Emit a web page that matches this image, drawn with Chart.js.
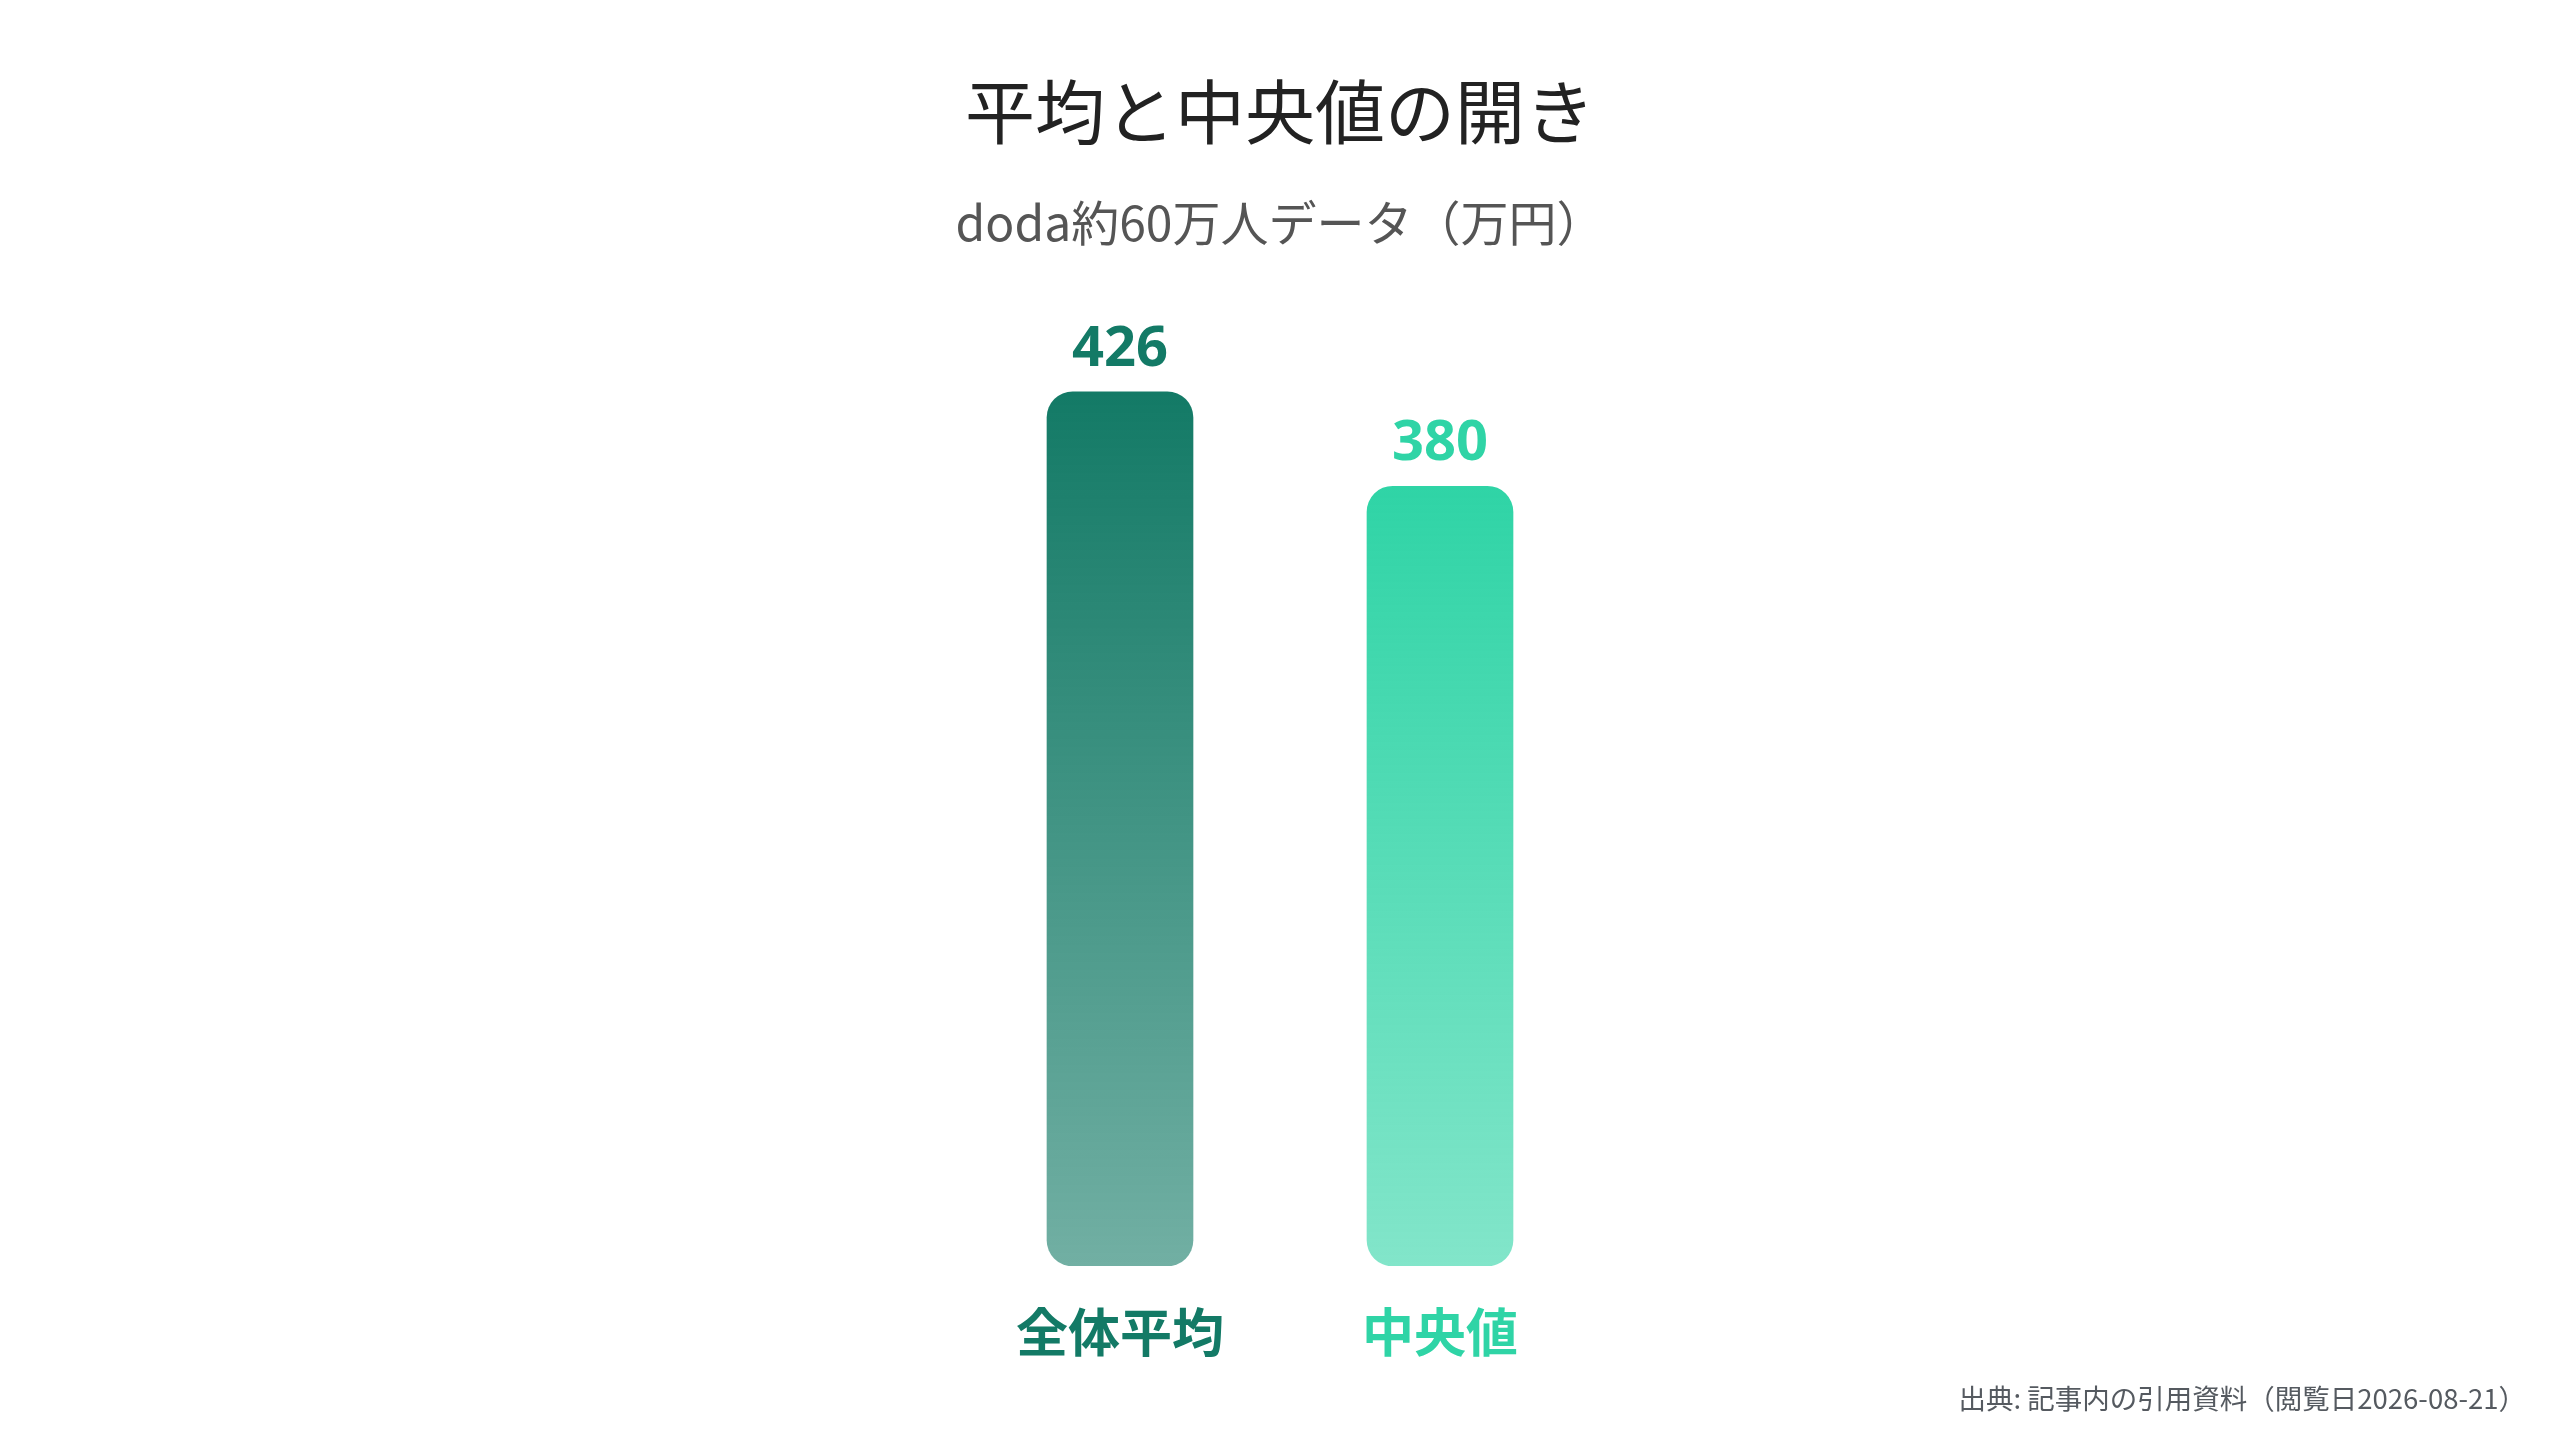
<!DOCTYPE html>
<html lang="ja">
<head>
<meta charset="utf-8">
<title>平均と中央値の開き</title>
<script src="https://cdn.jsdelivr.net/npm/chart.js@4.4.1/dist/chart.umd.min.js"></script>
<style>
    html, body { margin: 0; padding: 0; background: #ffffff; }
    #wrap { position: relative; width: 2560px; height: 1440px; overflow: hidden; }
    #wrap canvas { position: absolute; left: 0; top: 0; }
    .txt { position: absolute; left: 0; width: 2560px; text-align: center; font-family: "Noto Sans CJK JP", "Noto Sans", sans-serif; white-space: nowrap; }
    #title { top: 69px; font-size: 70px; line-height: 80px; color: #222222; font-weight: 400; }
    #subtitle { top: 192px; font-size: 48px; line-height: 56px; color: #555555; font-weight: 400; }
    #source { top: 1381px; left: auto; right: 34px; width: auto; text-align: right; font-size: 27.5px; line-height: 32px; color: #555a60; }
</style>
</head>
<body>
<div id="wrap">
    <canvas id="gapChart" width="2560" height="1440"></canvas>
    <div class="txt" id="title">平均と中央値の開き</div>
    <div class="txt" id="subtitle">doda約60万人データ（万円）</div>
    <div class="txt" id="source">出典: 記事内の引用資料（閲覧日2026-08-21）</div>
</div>
<script>
// chart data
const categories = ['全体平均', '中央値'];
const values = [426, 380];
const barColors = ['#137a66', '#2fd4a6'];
const yMax = 480;

function hexToRgba(hex, a) {
    const n = parseInt(hex.slice(1), 16);
    return 'rgba(' + ((n >> 16) & 255) + ', ' + ((n >> 8) & 255) + ', ' + (n & 255) + ', ' + a + ')';
}

// vertical gradient per bar, from its own top down to the baseline
function barGradient(context) {
    const chart = context.chart;
    const { ctx, chartArea, scales } = chart;
    if (!chartArea || !scales.y) return barColors[context.dataIndex];
    const base = barColors[context.dataIndex];
    const top = scales.y.getPixelForValue(values[context.dataIndex]);
    const bottom = scales.y.getPixelForValue(0);
    const g = ctx.createLinearGradient(0, top, 0, bottom);
    g.addColorStop(0, hexToRgba(base, 1));
    g.addColorStop(1, hexToRgba(base, 0.6));
    return g;
}

// value above each bar and category name under it
const barLabels = {
    id: 'barLabels',
    afterDatasetsDraw(chart) {
        const ctx = chart.ctx;
        const meta = chart.getDatasetMeta(0);
        const yScale = chart.scales.y;
        ctx.save();
        ctx.textAlign = 'center';
        meta.data.forEach(function(bar, i) {
            ctx.fillStyle = barColors[i];
            ctx.textBaseline = 'alphabetic';
            ctx.font = 'bold 56px "Noto Sans", "Noto Sans CJK JP", sans-serif';
            ctx.fillText(String(values[i]), bar.x, bar.y - 26);
            ctx.textBaseline = 'middle';
            ctx.font = 'bold 52px "Noto Sans CJK JP", sans-serif';
            ctx.fillText(categories[i], bar.x, yScale.getPixelForValue(0) + 66);
        });
        ctx.restore();
    }
};

document.addEventListener('DOMContentLoaded', function() {
    const ctx = document.getElementById('gapChart').getContext('2d');
    new Chart(ctx, {
        type: 'bar',
        data: {
            labels: categories,
            datasets: [
                {
                    label: '万円',
                    data: values,
                    backgroundColor: barGradient,
                    borderWidth: 0,
                    borderRadius: 26,
                    borderSkipped: false,
                    barThickness: 146
                }
            ]
        },
        options: {
            responsive: false,
            animation: false,
            devicePixelRatio: 1,
            layout: {
                padding: { left: 960, right: 960, top: 281, bottom: 174 }
            },
            plugins: {
                legend: { display: false },
                tooltip: { enabled: false }
            },
            scales: {
                x: { display: false, offset: true },
                y: { display: false, min: 0, max: yMax }
            }
        },
        plugins: [barLabels]
    });
});
</script>
</body>
</html>
